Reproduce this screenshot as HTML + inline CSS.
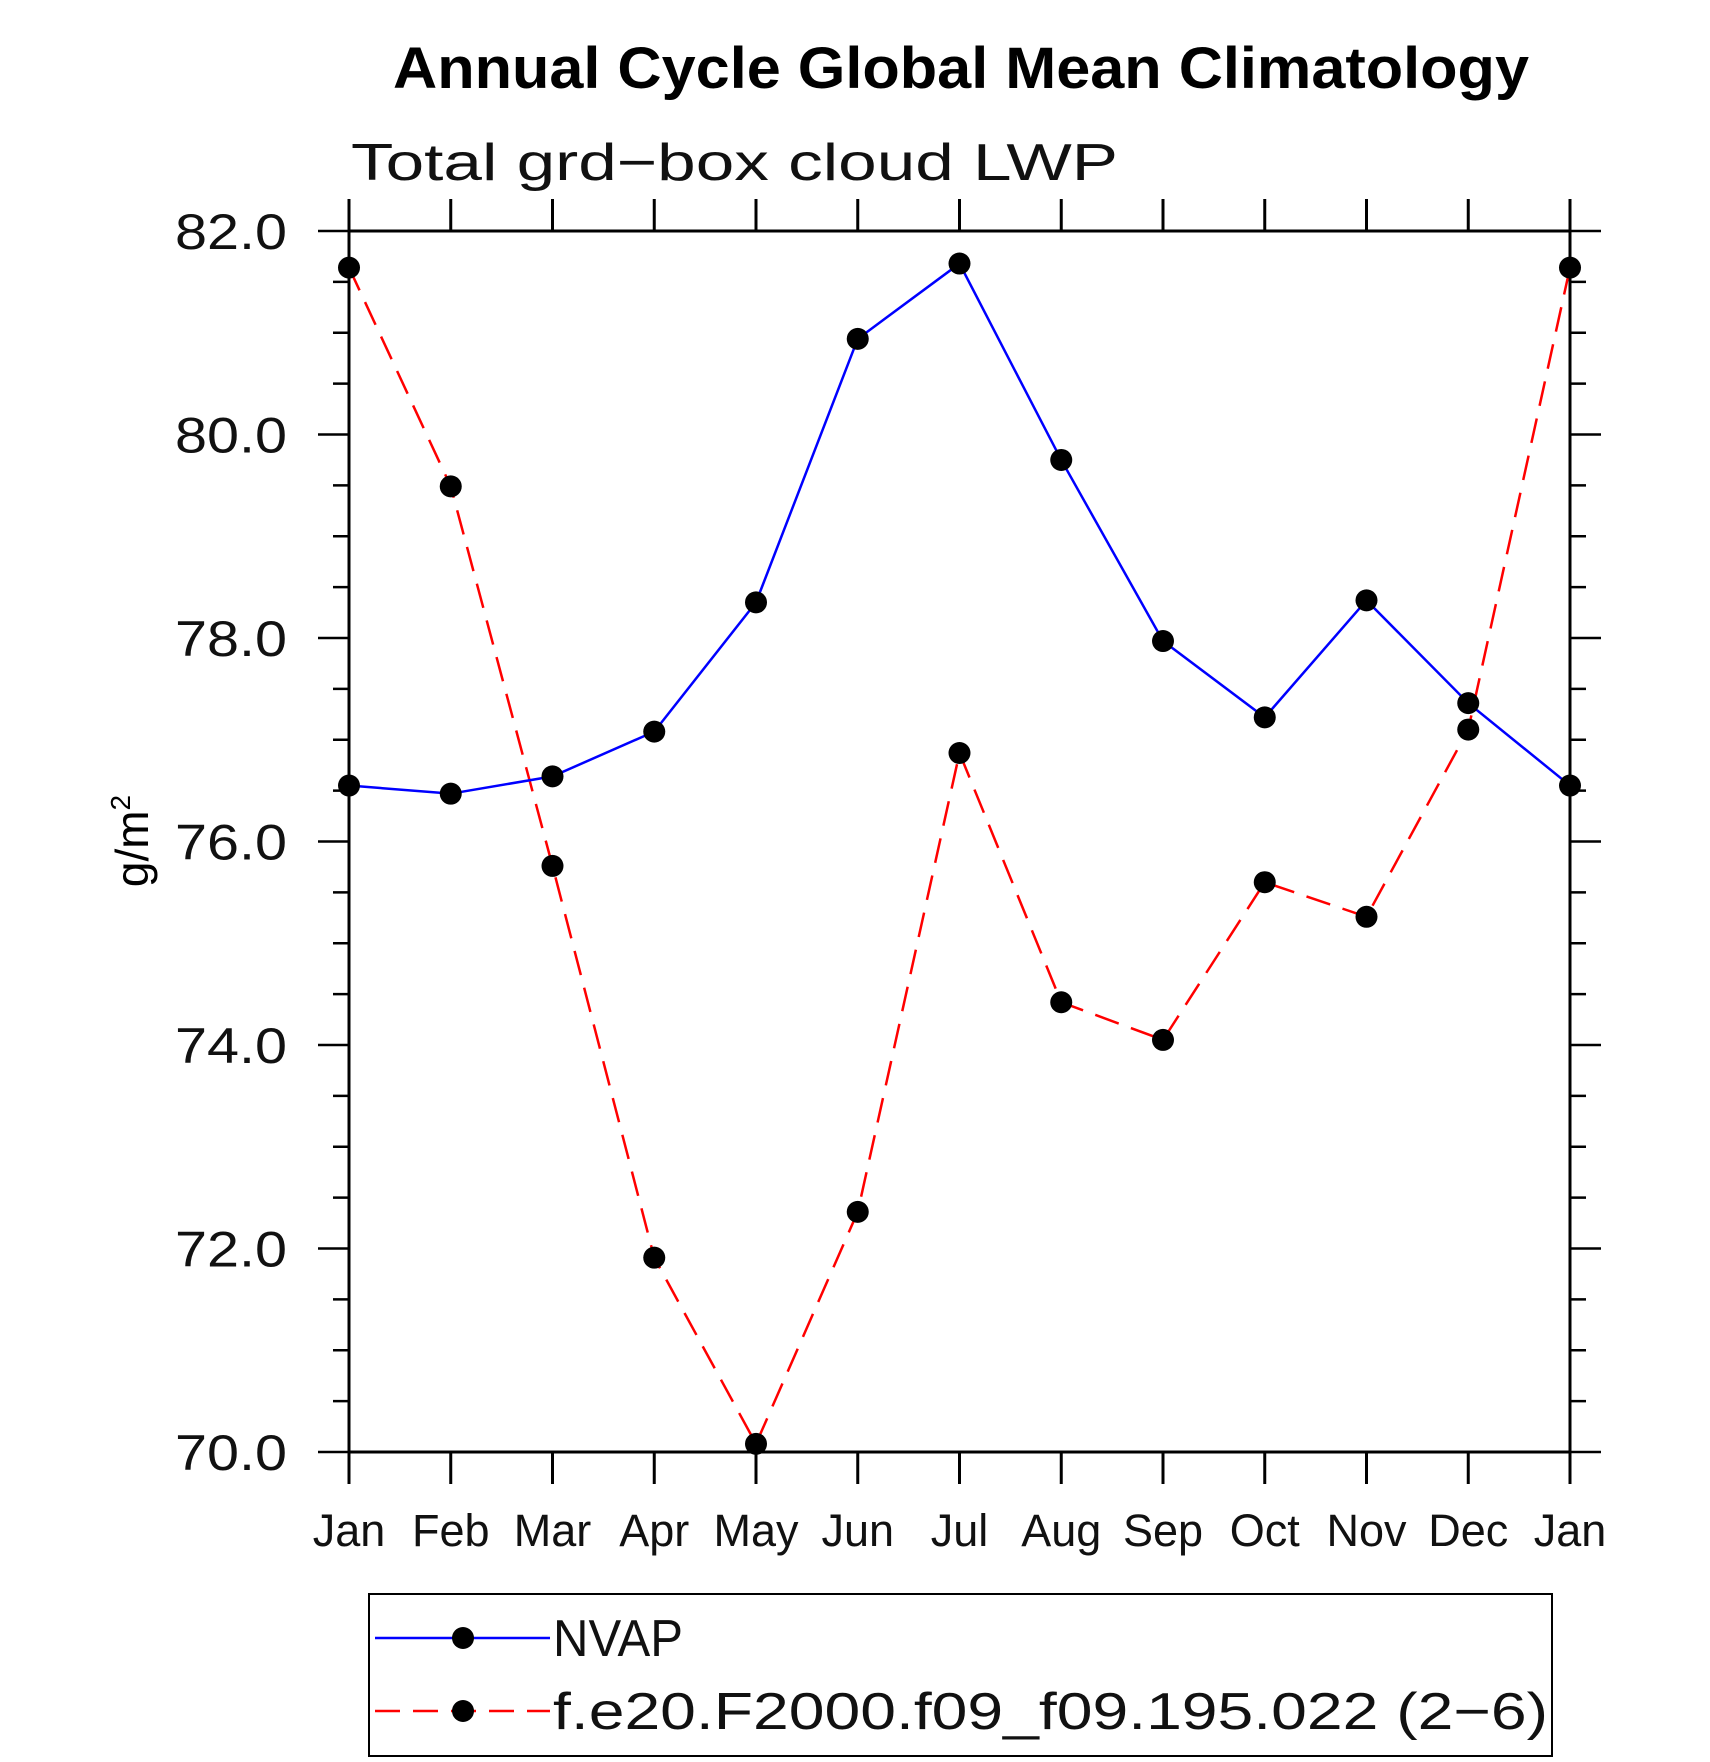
<!DOCTYPE html>
<html><head><meta charset="utf-8"><style>
html,body{margin:0;padding:0;background:#fff;}
svg{display:block;font-family:"Liberation Sans",sans-serif;}
</style></head><body>
<svg id="chart" width="1710" height="1762" viewBox="0 0 1710 1762" xmlns="http://www.w3.org/2000/svg">
<rect width="1710" height="1762" fill="#fff"/>
<text x="961" y="88" text-anchor="middle" font-size="58" font-weight="bold" textLength="1136" lengthAdjust="spacingAndGlyphs">Annual Cycle Global Mean Climatology</text>
<text x="351" y="180" font-size="52" font-weight="300" textLength="767" lengthAdjust="spacingAndGlyphs" fill="#111">Total grd−box cloud LWP</text>
<text transform="translate(148,841) rotate(-90)" text-anchor="middle" font-size="46">g/m<tspan font-size="28" dy="-18">2</tspan></text>
<g id="axes"></g>
<g id="series"></g>
<g>
<rect x="369" y="1594" width="1183" height="162" fill="none" stroke="#000" stroke-width="2"/>
<g>
<line x1="375" y1="1638" x2="550" y2="1638" stroke="#0000ff" stroke-width="2.5"/>
<circle cx="463" cy="1638" r="11"/>
<text x="553" y="1656" font-size="52" fill="#111" textLength="130" lengthAdjust="spacingAndGlyphs">NVAP</text>
</g>
<g>
<line x1="375" y1="1711" x2="550" y2="1711" stroke="#ff0000" stroke-width="2.5" stroke-dasharray="25,13"/>
<circle cx="463" cy="1711" r="11"/>
<text x="553" y="1729" font-size="52" fill="#111" textLength="995" lengthAdjust="spacingAndGlyphs">f.e20.F2000.f09_f09.195.022 (2−6)</text>
</g>
</g>
</svg>
<script>
const months = ["Jan","Feb","Mar","Apr","May","Jun","Jul","Aug","Sep","Oct","Nov","Dec","Jan"];
const nvapValues = [76.55,76.47,76.64,77.08,78.35,80.94,81.68,79.75,77.97,77.22,78.37,77.36,76.55];
const modelValues = [81.64,79.49,75.76,71.91,70.08,72.36,76.87,74.42,74.05,75.60,75.26,77.10,81.64];
const yTickValues = [70,72,74,76,78,80,82];
const yTickLabels = ["70.0","72.0","74.0","76.0","78.0","80.0","82.0"];

const L=349,R=1570,T=231,B=1452,YMIN=70,YMAX=82;
const NS="http://www.w3.org/2000/svg";
function xs(i){return L+(R-L)*i/(months.length-1);}
function ys(v){return B-(v-YMIN)/(YMAX-YMIN)*(B-T);}
function mk(tag,attrs,parent){const e=document.createElementNS(NS,tag);for(const k in attrs)e.setAttribute(k,attrs[k]);parent.appendChild(e);return e;}
const axes=document.getElementById('axes');
const frame=mk('rect',{x:L,y:T,width:R-L,height:B-T,fill:'none',stroke:'#000','stroke-width':3},axes);


months.forEach((m,i)=>{
  const x=xs(i);
  const t1=mk('line',{x1:x,y1:B,x2:x,y2:B+32,stroke:'#000','stroke-width':3},axes);
  
  
  const t2=mk('line',{x1:x,y1:T,x2:x,y2:T-32,stroke:'#000','stroke-width':3},axes);
  
  
  const lb=mk('text',{x:x,y:1546,'text-anchor':'middle','font-size':45,fill:'#111'},axes);
  lb.textContent=m;
  
  
});
for(let v=YMIN;v<=YMAX+0.001;v+=0.5){
  const major=Math.abs(v-Math.round(v/2)*2)<0.001;
  const len=major?31:16;
  const y=ys(v);
  const a=mk('line',{x1:L-len,y1:y,x2:L,y2:y,stroke:'#000','stroke-width':2.5},axes);
  
  
  const b=mk('line',{x1:R,y1:y,x2:R+len,y2:y,stroke:'#000','stroke-width':2.5},axes);
  
  
}
yTickValues.forEach((v,i)=>{
  const lb=mk('text',{x:287,y:ys(v)+18,'text-anchor':'end','font-size':50,fill:'#111',textLength:112,lengthAdjust:'spacingAndGlyphs'},axes);
  lb.textContent=yTickLabels[i];
  
  
});
const series=document.getElementById('series');
function draw(vals,color,dash,name){
  const g=mk('g',{},series);
  
  
  const pts=vals.map((v,i)=>xs(i)+','+ys(v)).join(' ');
  const pl=mk('polyline',{points:pts,fill:'none',stroke:color,'stroke-width':2.5,'stroke-dasharray':dash},g);
  
  
  vals.forEach((v,i)=>{
    const c=mk('circle',{cx:xs(i),cy:ys(v),r:11,fill:'#000'},g);
    
    
  });
}
draw(modelValues,'#ff0000','25,13','model-series');
draw(nvapValues,'#0000ff','none','nvap-series');
</script>
</body></html>
